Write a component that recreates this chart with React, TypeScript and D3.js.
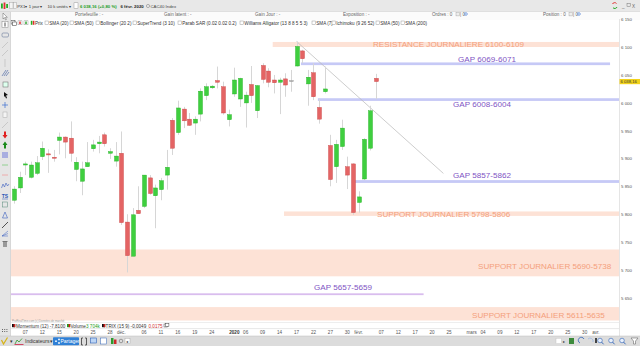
import React from "react";
import * as d3 from "d3";

const W = 640;
const H = 346;
const FONT = "'Liberation Sans', Arial, Helvetica, sans-serif";

// ---- calendar (Euronext trading days) ----
const firstDay = "2019-11-05";
const lastAxisDay = "2020-04-06";
const holidays = ["2019-12-25", "2019-12-26", "2020-01-01"];

// ---- CAC40 daily candles, 5 Nov 2019 -> 6 Feb 2020 ----
const opens = [5826, 5848, 5889, 5867, 5874, 5904, 5909, 5903, 5933, 5939, 5937, 5881, 5860, 5886, 5918, 5927, 5943, 5910, 5896, 5910, 5787, 5726, 5808, 5815, 5866, 5834, 5845, 5871, 5969, 5947, 5989, 5971, 5964, 5980, 6013, 6027, 6040, 6029, 5970, 6016, 6007, 6000, 6033, 5986, 6067, 6057, 6041, 6037, 6043, 6040, 6066, 6093, 6034, 6054, 5992, 6020, 5924, 5886, 5922, 5886, 5891, 5822, 5864, 5919, 6044];
const highs = [5851, 5877, 5895, 5895, 5905, 5931, 5917, 5916, 5947, 5940, 5967, 5903, 5895, 5930, 5934, 5941, 5947, 5919, 5930, 5949, 5801, 5812, 5851, 5871, 5871, 5854, 5866, 5916, 5973, 6004, 5993, 5982, 5976, 6026, 6035, 6032, 6065, 6038, 5988, 6063, 6045, 6020, 6066, 6032, 6071, 6062, 6050, 6045, 6053, 6059, 6110, 6095, 6059, 6071, 6008, 6065, 5943, 5934, 5970, 5904, 5892, 5842, 5937, 5995, 6052];
const lows = [5820, 5839, 5871, 5865, 5871, 5898, 5875, 5895, 5908, 5901, 5895, 5860, 5835, 5886, 5913, 5910, 5922, 5900, 5886, 5782, 5697, 5726, 5802, 5812, 5836, 5776, 5826, 5845, 5907, 5943, 5955, 5959, 5943, 5967, 6005, 6025, 6026, 5979, 5958, 6011, 5993, 5956, 6000, 5973, 6035, 6028, 6017, 5980, 6011, 6020, 6065, 6071, 5995, 6005, 5963, 6017, 5851, 5857, 5916, 5846, 5800, 5804, 5862, 5915, 6007];
const closes = [5846, 5867, 5891, 5889, 5893, 5919, 5907, 5901, 5939, 5930, 5910, 5894, 5882, 5893, 5925, 5930, 5927, 5913, 5905, 5786, 5727, 5800, 5802, 5871, 5838, 5848, 5861, 5885, 5919, 5991, 5968, 5960, 5971, 6021, 6029, 6030, 6037, 5982, 5979, 6041, 6044, 6014, 6013, 6031, 6042, 6037, 6036, 6041, 6032, 6040, 6101, 6079, 6046, 6011, 5971, 6025, 5863, 5926, 5955, 5871, 5804, 5832, 5935, 5986, 6038.16];

// ---- axes ----
const priceTicks = [6150, 6100, 6050, 6000, 5950, 5900, 5850, 5800, 5750, 5700, 5650];
const lastPrice = 6038.16;
const axisTickDates = ["2019-11-07", "2019-11-12", "2019-11-15", "2019-11-20", "2019-11-25", "2019-11-28", "2019-12-02", "2019-12-06", "2019-12-11", "2019-12-16", "2019-12-19", "2019-12-24", "2020-01-02", "2020-01-06", "2020-01-09", "2020-01-14", "2020-01-17", "2020-01-22", "2020-01-27", "2020-01-30", "2020-02-03", "2020-02-07", "2020-02-12", "2020-02-17", "2020-02-20", "2020-02-25", "2020-03-02", "2020-03-04", "2020-03-09", "2020-03-12", "2020-03-17", "2020-03-20", "2020-03-25", "2020-03-30", "2020-04-01"];
const axisTickLabels = ["07", "12", "15", "20", "25", "28", "déc.", "06", "11", "16", "19", "24", "2020", "06", "09", "14", "17", "22", "27", "30", "févr.", "07", "12", "17", "20", "25", "mars", "04", "09", "12", "17", "20", "25", "30", "avr."];

// ---- drawn zones ----
const bandLabels = ["RESISTANCE JOURNALIERE 6100-6109", "SUPPORT JOURNALIER 5798-5806", "SUPPORT JOURNALIER 5690-5738", "SUPPORT JOURNALIER 5611-5635"];
const bandLow = [6100, 5798, 5690, 5611];
const bandHigh = [6109, 5806, 5738, 5635];
const bandStart = ["2020-01-13", "2020-01-15", "", ""];

const gapLabels = ["GAP 6069-6071", "GAP 6008-6004", "GAP 5857-5862", "GAP 5657-5659"];
const gapLow = [6069, 6004, 5857, 5657];
const gapHigh = [6071, 6008, 5862, 5659];
const gapStart = ["2020-01-20", "2020-01-23", "2020-01-31", ""];
const gapEnd = ["2020-04-03", "", "", "2020-02-18"];

const trendFrom = { date: "2020-01-17", price: 6110 };
const trendTo = { date: "2020-02-24", price: 5874 };

// label layout (pixels, annotation placement only)
const bandLabelPos = [[373, 46.7], [377, 216.7], [478, 268.7], [472, 318]];
const gapLabelPos = [[458, 62.3], [453, 107.3], [453, 178.3], [314, 290]];

function tradingDays(): string[] {
  const out: string[] = [];
  const fmt = d3.utcFormat("%Y-%m-%d");
  const start = new Date(firstDay + "T00:00:00Z");
  const end = new Date(lastAxisDay + "T00:00:00Z");
  for (let d = start; d <= end; d = d3.utcDay.offset(d, 1)) {
    const wd = d.getUTCDay();
    const s = fmt(d);
    if (wd === 0 || wd === 6 || holidays.includes(s)) continue;
    out.push(s);
  }
  return out;
}

const days = tradingDays();
const PLOT_L = 11;
const PLOT_R = 619;
const PLOT_T = 29;
const PLOT_B = 322;

const xs = d3.scaleLinear().domain([0, 107]).range([14, 14 + 107 * 5.65]);
const ys = d3.scaleLinear().domain([5650, 6100]).range([298.7, 47]);
const idx = (s: string) => days.indexOf(s);
const fmtPrice = (v: number) => d3.format(",")(v).replace(",", " ");

const T = (p: any) => (
  <text fontFamily={FONT} fontSize={4.6} fill="#333" {...p}>
    {p.children}
  </text>
);

function CheckBox({ x, y }: { x: number; y: number }) {
  return <rect x={x} y={y} width={3.4} height={3.4} fill="#fff" stroke="#9a9a9a" strokeWidth={0.5} />;
}

function LeftToolbar() {
  const c = 5;
  return (
    <g>
      <rect x={0} y={12} width={10.5} height={324} fill="#e5e5e5" />
      <line x1={10.5} x2={10.5} y1={12} y2={336} stroke="#c4c4c4" strokeWidth={0.6} />
      <path d="M3,13 L3,19 L4.5,17.6 L5.6,20 L6.4,19.6 L5.4,17.3 L7.3,17.3 Z" fill="#fff" stroke="#444" strokeWidth={0.4} />
      <rect x={2} y={21.5} width={6} height={6} fill="#fff" stroke="#888" strokeWidth={0.5} />
      <line x1={5} x2={5} y1={22.5} y2={26.5} stroke="#222" strokeWidth={0.8} />
      <rect x={2} y={33} width={6.5} height={4} rx={1.2} fill="none" stroke="#6a7b9a" strokeWidth={0.6} />
      <line x1={2} y1={48} x2={8} y2={42} stroke="#bbb" strokeWidth={0.7} />
      <line x1={2} y1={56} x2={8} y2={50} stroke="#bbb" strokeWidth={0.7} />
      <line x1={5} y1={59} x2={5} y2={67} stroke="#bbb" strokeWidth={0.7} />
      <g stroke="#3d5a9e" strokeWidth={0.6}>
        <line x1={2} y1={76} x2={6} y2={70} />
        <line x1={4} y1={76} x2={8} y2={70} />
        <line x1={6} y1={76} x2={9} y2={72} />
      </g>
      <rect x={3} y={82} width={5} height={5} fill="#dfe" stroke="#666" strokeWidth={0.5} />
      <path d="M4,92 L8,95 L6,95.5 L7,98 L6,98.5 L5,96 L4,97 Z" fill="#111" />
      <g stroke="#3a6fd0" strokeWidth={0.7}>
        <line x1={2} y1={105} x2={8} y2={105} />
        <line x1={5} y1={102} x2={5} y2={108} />
      </g>
      <rect x={3} y={112} width={4} height={5.5} fill="#f4f4f4" stroke="#aaa" strokeWidth={0.5} />
      <line x1={2} y1={128} x2={8} y2={122} stroke="#bbb" strokeWidth={0.7} />
      <path d="M4,131.5 L6,131.5 L6,135 L7.5,135 L5,138.5 L2.5,135 L4,135 Z" fill="#e02020" />
      <path d="M4,148.5 L6,148.5 L6,145 L7.5,145 L5,141.5 L2.5,145 L4,145 Z" fill="#1b8a1b" />
      <rect x={2} y={152} width={6} height={6} fill="#a9aee0" />
      <line x1={2} x2={8} y1={165} y2={165} stroke="#7ecb7e" strokeWidth={0.8} />
      <line x1={2} x2={8} y1={175} y2={175} stroke="#f0a0a0" strokeWidth={0.8} />
      <path d="M1.5,188 L3,184 L4.5,187 L6,183 L7.5,186 L9,184" fill="none" stroke="#3a5ec0" strokeWidth={0.6} />
      <text x={c} y={197.5} fontFamily={FONT} fontSize={5} fontWeight="bold" fill="#2f59b5" textAnchor="middle">TS</text>
      <line x1={2} x2={8} y1={199} y2={199} stroke="#2f59b5" strokeWidth={0.5} />
      <rect x={2.5} y={202} width={5} height={5} fill="none" stroke="#587" strokeWidth={0.5} />
      <path d="M2.5,218 L5,212 L7.5,218 Z" fill="none" stroke="#3a5ec0" strokeWidth={0.6} />
      <line x1={2} y1={228} x2={8} y2={222} stroke="#111" strokeWidth={0.7} />
      <path d="M2,236 L8,231 M2,236 L8,233.5 M2,236 L8,236" stroke="#3a5ec0" strokeWidth={0.5} />
      <rect x={3} y={242} width={4} height={5} fill="#999" />
      <rect x={2.5} y={241} width={5} height={1} fill="#777" />
      <g fill="#666">
        {[0, 1, 2].map((i) => (
          <g key={i}>
            <rect x={2 + i * 2.2} y={329} width={1} height={1} />
            <rect x={2 + i * 2.2} y={331} width={1} height={1} />
          </g>
        ))}
      </g>
    </g>
  );
}

function TopBars() {
  return (
    <g>
      <rect x={0} y={0} width={W} height={11.5} fill="#e8e8e8" />
      <line x1={0} x2={W} y1={11.5} y2={11.5} stroke="#c8c8c8" strokeWidth={0.6} />
      <rect x={1} y={3.5} width={1.8} height={5} fill="#23b023" />
      <rect x={3.6} y={2.5} width={1.8} height={6.5} fill="#e03030" />
      <rect x={6.2} y={4} width={1.8} height={4} fill="#23b023" />
      <rect x={9.5} y={2.5} width={3.5} height={6} fill="#f4f4f4" stroke="#999" strokeWidth={0.4} />
      <rect x={13.5} y={2.5} width={3} height={6} fill="#f4f4f4" stroke="#999" strokeWidth={0.4} />
      <T x={17.3} y={7.7} fontSize={4.2}>PX1▾</T>
      <T x={28.8} y={7.7} fontSize={4.2}>1 jour ▾</T>
      <T x={47.5} y={7.7} fontSize={4.2}>10 k unités ▾</T>
      <rect x={74} y={2.8} width={4} height={5.5} fill="#fff" stroke="#888" strokeWidth={0.4} />
      <T x={80} y={7.7} fontSize={4.3} fill="#1f9e1f" fontWeight="bold">6 038,16 (+0,80 %)</T>
      <T x={120.5} y={7.7} fontSize={4.3} fontWeight="bold" fill="#222">6 févr. 2020</T>
      <circle cx={148} cy={6} r={1.6} fill="none" stroke="#777" strokeWidth={0.5} />
      <T x={150.5} y={7.7} fontSize={4.3} fill="#444">CAC40 Index</T>
      <path d="M612.5,4 A2.4,2.4 0 0 1 616.5,3.5" fill="none" stroke="#e23030" strokeWidth={1} />
      <path d="M617,7 A2.4,2.4 0 0 1 613,7.7" fill="none" stroke="#27a827" strokeWidth={1} />
      <T x={622} y={7.7} fill="#666">_</T>
      <rect x={627} y={3.5} width={3.2} height={3.2} fill="none" stroke="#777" strokeWidth={0.5} />
      <T x={632} y={7.7} fill="#666">X</T>

      <rect x={10.5} y={11.8} width={W - 10.5} height={8} fill="#fbfbfb" />
      <T x={75} y={16} fill="#666">Portefeuille : -</T>
      <T x={164} y={16} fill="#666">Gain latent : -</T>
      <T x={255} y={16} fill="#666">Gain Jour : -</T>
      <T x={343} y={16} fill="#666">Exposition : -</T>
      <T x={432} y={16} fill="#666">Ordres : 0</T>
      <rect x={456} y={12.7} width={3.2} height={3.2} fill="#eee" stroke="#999" strokeWidth={0.4} />
      <T x={460} y={16} fill="#666">| 0</T>
      <circle cx={466} cy={14} r={1.3} fill="none" stroke="#3a6fd0" strokeWidth={0.6} />
      <T x={543} y={16} fill="#666">Position : 0</T>
      <rect x={569} y={12.7} width={3.2} height={3.2} fill="#eee" stroke="#999" strokeWidth={0.4} />
      <T x={573} y={16} fill="#666">| 0</T>
      <circle cx={579} cy={14} r={1.3} fill="none" stroke="#3a6fd0" strokeWidth={0.6} />

      <rect x={11} y={20.5} width={4} height={3.5} fill="#fff" stroke="#333" strokeWidth={0.5} />
      <rect x={12.5} y={22} width={4} height={3.5} fill="#fff" stroke="#333" strokeWidth={0.5} />
      <rect x={18} y={20.8} width={4} height={4} fill="#fff" stroke="#888" strokeWidth={0.4} />
      <rect x={19.3} y={21.5} width={1.4} height={2.6} fill="#e02020" />
      <rect x={24} y={20.8} width={4} height={4} fill="#fff" stroke="#888" strokeWidth={0.4} />
      <rect x={25.3} y={21.5} width={1.4} height={2.6} fill="#20a020" />
      <rect x={30.8} y={20.8} width={1.6} height={4} fill="#23b023" />
      <rect x={32.8} y={20.8} width={1.6} height={4} fill="#e03030" />
      <T x={35} y={24.6}>Prix</T>
      {([
        [45, "SMA (20)"],
        [70, "SMA (50)"],
        [96, "Bollinger (20 2)"],
        [133, "SuperTrend (3 10)"],
        [178, "Parab SAR (0.02 0.02 0.2)"],
        [240, "Williams Alligator (13 8 8 5 5 3)"],
        [312, "SMA (7)"],
        [332, "Ichimoku (9 26 52)"],
        [376, "SMA (50)"],
        [401, "SMA (200)"],
      ] as [number, string][]).map(([x, s]) => (
        <g key={x}>
          <CheckBox x={x} y={21} />
          <T x={x + 4.3} y={24.6}>{s}</T>
        </g>
      ))}
    </g>
  );
}

function BottomBars() {
  return (
    <g>
      <text x={12} y={321.8} fontFamily={FONT} fontSize={2.8} fill="#999">ProRealTime.com (c) Données de marché</text>
      <rect x={12} y={324} width={3.2} height={3.2} fill="#111" />
      <rect x={13.6} y={324} width={1.6} height={3.2} fill="#d02020" />
      <T x={16} y={327.6}>Momentum (12) -7,8100</T>
      <rect x={67} y={324} width={3.2} height={3.2} fill="#20a020" />
      <rect x={68.6} y={324} width={1.6} height={3.2} fill="#d02020" />
      <T x={70.5} y={327.6}>Volume</T>
      <T x={86} y={327.6} fill="#1e9e1e">3 704k</T>
      <rect x={102} y={324} width={3.2} height={3.2} fill="#111" />
      <rect x={103.6} y={324} width={1.6} height={3.2} fill="#d02020" />
      <T x={105.6} y={327.6}>TRIX (15 9) -0,0049</T>
      <T x={148.5} y={327.6} fill="#d03030">0,0175</T>
      <rect x={164} y={324} width={3.6} height={3} fill="#fff" stroke="#444" strokeWidth={0.5} />
      <rect x={165.3} y={323.3} width={3.6} height={3} fill="#fff" stroke="#444" strokeWidth={0.5} />
      <line x1={PLOT_L} x2={PLOT_R} y1={328.6} y2={328.6} stroke="#d6d6d6" strokeWidth={0.6} />

      <rect x={0} y={336} width={W} height={10} fill="#dcdcdc" />
      <line x1={0} x2={W} y1={336} y2={336} stroke="#bdbdbd" strokeWidth={0.5} />
      <path d="M1.5,340 L3.5,344 L7.5,337.5" fill="none" stroke="#d7b315" strokeWidth={1.2} />
      <T x={9.5} y={343}>▾</T>
      <path d="M15,344 L17,340 L19,342 L22,338.5" fill="none" stroke="#2e9a2e" strokeWidth={0.8} />
      <rect x={14.5} y={344} width={9} height={0.8} fill="#c24" />
      <T x={25} y={343.4} fontSize={5}>Indicateurs</T>
      <T x={50} y={343}>▾</T>
      <rect x={53} y={337.2} width={26} height={8} fill="#2f80d6" rx={0.8} />
      <circle cx={56} cy={341.2} r={0.9} fill="#fff" />
      <circle cx={59} cy={339.4} r={0.9} fill="#fff" />
      <circle cx={59} cy={343} r={0.9} fill="#fff" />
      <T x={60.5} y={343.2} fontSize={5} fill="#fff">Partager</T>
      <path d="M83,338 L81.5,338 L81.5,345 L83,345 M85,338 L86.5,338 L86.5,345 L85,345" fill="none" stroke="#222" strokeWidth={0.7} />
      <rect x={90.5} y={338} width={6} height={5} fill="#bcd5f5" stroke="#2d62b8" strokeWidth={0.6} />
      <rect x={100.5} y={338} width={6} height={6} fill="#fff" stroke="#2d62b8" strokeWidth={0.5} />
      <rect x={111} y={338} width={2.5} height={6} fill="#2e9a2e" />
      <rect x={114} y={339.5} width={2.5} height={4.5} fill="#cc2a2a" />
      <circle cx={121} cy={341} r={1.8} fill="none" stroke="#555" strokeWidth={0.5} />
      <rect x={125} y={338.2} width={5} height={5.5} fill="#fff" stroke="#999" strokeWidth={0.4} />
      <T x={126.2} y={342.6} fontSize={4}>◂</T>
      <rect x={556} y={338.2} width={5.5} height={5.5} fill="#fff" stroke="#bbb" strokeWidth={0.4} />
      <T x={563} y={342.8} fontSize={4}>▸</T>
      <rect x={569} y={338} width={5} height={6} fill="#3c8a3c" />
      <path d="M580,343 A3,3 0 1 1 584,339" fill="none" stroke="#2d62b8" strokeWidth={0.8} />
      <path d="M588,339 A3,3 0 0 1 593,342" fill="none" stroke="#9ab8e8" strokeWidth={0.8} />
      {[600, 611, 622].map((x, i) => (
        <g key={x}>
          <circle cx={x} cy={340.5} r={2.3} fill="#e8f0fb" stroke="#2d62b8" strokeWidth={0.6} />
          <line x1={x + 1.6} y1={342.1} x2={x + 3.6} y2={344.3} stroke="#2d62b8" strokeWidth={0.9} />
          {i === 0 && <rect x={x - 5} y={338} width={2} height={5} fill="#444" />}
        </g>
      ))}
      <path d="M631,338 L638,338 L635.5,341 L635.5,344 L633.5,344 L633.5,341 Z" fill="#fff" stroke="#555" strokeWidth={0.5} />
    </g>
  );
}

export default function App() {
  const candleData = opens.map((o, i) => ({ i, o, h: highs[i], l: lows[i], c: closes[i] }));
  const bodyW = 4;

  const xStart = (s: string) => (s ? xs(idx(s)) - 1.2 : PLOT_L);
  const xEnd = (s: string) => (s ? xs(idx(s)) + 2.8 : PLOT_R);

  return (
    <svg
      width={W}
      height={H}
      viewBox={`0 0 ${W} ${H}`}
      style={{ position: "absolute", left: 0, top: 0, background: "#fff" }}
      xmlns="http://www.w3.org/2000/svg"
    >
      <rect x={0} y={0} width={W} height={H} fill="#fff" />
      <TopBars />
      <LeftToolbar />

      <line x1={PLOT_R + 0.5} x2={PLOT_R + 0.5} y1={PLOT_T - 10} y2={336} stroke="#d4d4d4" strokeWidth={0.6} />
      <line x1={PLOT_L} x2={PLOT_R} y1={PLOT_B + 0.5} y2={PLOT_B + 0.5} stroke="#e2e2e2" strokeWidth={0.6} />

      {bandLabels.map((lab, k) => (
        <rect
          key={lab}
          x={xStart(bandStart[k])}
          width={PLOT_R - xStart(bandStart[k])}
          y={ys(bandHigh[k])}
          height={ys(bandLow[k]) - ys(bandHigh[k])}
          fill="#fde2d6"
        />
      ))}

      {gapLabels.map((lab, k) => {
        const y1 = ys(gapHigh[k]);
        const y2 = ys(gapLow[k]);
        const lilac = k === 3;
        const hgt = Math.max(lilac ? 1.8 : 2.7, y2 - y1);
        const yc = (y1 + y2) / 2;
        const x0 = xStart(gapStart[k]);
        const x1 = gapEnd[k] ? xEnd(gapEnd[k]) : PLOT_R;
        return (
          <rect key={lab} x={x0} width={x1 - x0} y={yc - hgt / 2} height={hgt} fill={lilac ? "#d9bdee" : "#c6c9f6"} />
        );
      })}

      <line
        x1={xs(idx(trendFrom.date))}
        y1={ys(trendFrom.price)}
        x2={xs(idx(trendTo.date))}
        y2={ys(trendTo.price)}
        stroke="#b8b8b8"
        strokeWidth={0.7}
      />

      {candleData.map((d) => {
        const x = Math.round(xs(d.i)) + 0.5;
        const flat = Math.abs(d.c - d.o) < 0.5;
        const up = d.c > d.o;
        const fill = flat ? "#a8a8a8" : up ? "#3fcf3f" : "#e46464";
        const stroke = flat ? "#999" : up ? "#1fae1f" : "#c84444";
        const top = ys(Math.max(d.o, d.c));
        const bot = ys(Math.min(d.o, d.c));
        return (
          <g key={d.i}>
            <line x1={x} x2={x} y1={ys(d.h)} y2={ys(d.l)} stroke="#d6d6d6" strokeWidth={1} />
            <rect x={x - bodyW / 2} width={bodyW} y={top} height={Math.max(1, bot - top)} fill={fill} stroke={stroke} strokeWidth={0.4} />
          </g>
        );
      })}

      {bandLabels.map((lab, k) => (
        <text key={lab} x={bandLabelPos[k][0]} y={bandLabelPos[k][1]} fontFamily={FONT} fontSize={8.1} fill="#f4a07c">
          {lab}
        </text>
      ))}
      {gapLabels.map((lab, k) => (
        <text key={lab} x={gapLabelPos[k][0]} y={gapLabelPos[k][1]} fontFamily={FONT} fontSize={8.1} fill="#7f55c4">
          {lab}
        </text>
      ))}

      {priceTicks.map((v) => (
        <text key={v} x={621} y={ys(v) + 1.6} fontFamily={FONT} fontSize={4.4} fill="#555">
          {fmtPrice(v)}
        </text>
      ))}
      <rect x={619.5} y={ys(lastPrice) - 2.6} width={20.5} height={5.2} fill="#f2d21b" />
      <text x={620.5} y={ys(lastPrice) + 1.5} fontFamily={FONT} fontSize={4.2} fill="#333">
        {d3.format(",.2f")(lastPrice).replace(",", " ").replace(".", ",")}
      </text>

      <BottomBars />

      {axisTickDates.map((s, k) => {
        const lab = axisTickLabels[k];
        const big = lab === "2020";
        return (
          <text
            key={s}
            x={xs(idx(s))}
            y={333.8}
            textAnchor="middle"
            fontFamily={FONT}
            fontSize={4.6}
            fontWeight={big ? "bold" : "normal"}
            fill={big ? "#333" : "#555"}
          >
            {lab}
          </text>
        );
      })}
    </svg>
  );
}
